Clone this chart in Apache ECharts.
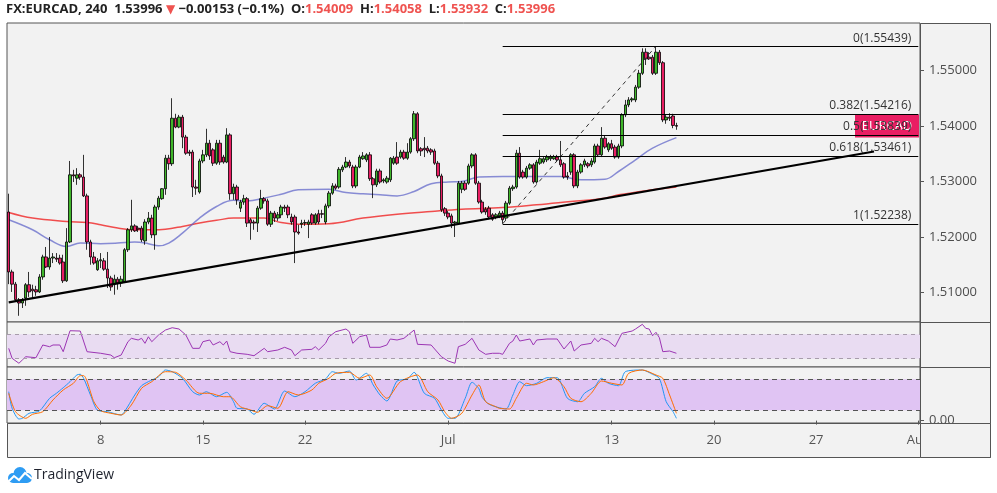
<!DOCTYPE html>
<html><head><meta charset="utf-8">
<script src="https://cdn.jsdelivr.net/npm/echarts@6/dist/echarts.min.js"></script>
<style>html,body{margin:0;padding:0;background:#fff;}#c{width:997px;height:493px;}</style>
</head><body><div id="c"></div>
<script>
// ---------------- DATA ----------------
const symbolTitle = 'FX:EURCAD, 240';
const symbolName = 'EURCAD';
const changeAbs = -0.00153;
const changePct = -0.1;

const opens = [
1.5245,1.5137,1.5115,1.5087,1.5081,1.5090,1.5114,1.5106,1.5105,1.5101,
1.5128,1.5164,1.5146,1.5162,1.5162,1.5162,1.5155,1.5121,1.5191,1.5312,
1.5306,1.5312,1.5308,1.5274,1.5191,1.5164,1.5141,1.5157,1.5157,1.5142,
1.5126,1.5115,1.5124,1.5117,1.5119,1.5177,1.5213,1.5220,1.5216,1.5216,
1.5193,1.5227,1.5234,1.5204,1.5254,1.5269,1.5287,1.5342,1.5332,1.5414,
1.5398,1.5416,1.5380,1.5353,1.5353,1.5290,1.5281,1.5337,1.5348,1.5369,
1.5357,1.5333,1.5369,1.5344,1.5335,1.5384,1.5278,1.5290,1.5252,1.5263,
1.5269,1.5231,1.5227,1.5225,1.5252,1.5269,1.5265,1.5223,1.5243,1.5234,
1.5240,1.5254,1.5254,1.5236,1.5236,1.5209,1.5223,1.5225,1.5223,1.5240,
1.5225,1.5242,1.5242,1.5227,1.5256,1.5279,1.5292,1.5290,1.5321,1.5326,
1.5335,1.5326,1.5292,1.5326,1.5341,1.5339,1.5348,1.5305,1.5294,1.5319,
1.5301,1.5299,1.5303,1.5333,1.5344,1.5344,1.5353,1.5342,1.5353,1.5377,
1.5422,1.5359,1.5360,1.5360,1.5357,1.5355,1.5333,1.5310,1.5251,1.5243,
1.5238,1.5225,1.5225,1.5286,1.5297,1.5297,1.5328,1.5348,1.5297,1.5263,
1.5250,1.5252,1.5240,1.5236,1.5238,1.5243,1.5234,1.5261,1.5287,1.5290,
1.5351,1.5317,1.5308,1.5324,1.5330,1.5299,1.5333,1.5335,1.5339,1.5341,
1.5341,1.5344,1.5339,1.5332,1.5310,1.5317,1.5348,1.5292,1.5317,1.5330,
1.5332,1.5330,1.5335,1.5364,1.5348,1.5378,1.5357,1.5368,1.5362,1.5344,
1.5364,1.5420,1.5438,1.5447,1.5447,1.5470,1.5495,1.5533,1.5524,1.5524,
1.5495,1.5533,1.5514,1.5411,1.5416,1.5418,1.54009];

const closes = [
1.5137,1.5115,1.5087,1.5081,1.5087,1.5114,1.5101,1.5103,1.5101,1.5128,
1.5164,1.5146,1.5162,1.5164,1.5160,1.5153,1.5121,1.5191,1.5312,1.5310,
1.5312,1.5308,1.5274,1.5191,1.5164,1.5153,1.5157,1.5159,1.5142,1.5126,
1.5110,1.5124,1.5117,1.5124,1.5177,1.5213,1.5220,1.5211,1.5214,1.5195,
1.5227,1.5234,1.5204,1.5254,1.5270,1.5287,1.5342,1.5332,1.5414,1.5398,
1.5416,1.5380,1.5351,1.5351,1.5290,1.5288,1.5337,1.5348,1.5369,1.5346,
1.5333,1.5369,1.5335,1.5335,1.5384,1.5278,1.5290,1.5267,1.5263,1.5269,
1.5225,1.5225,1.5225,1.5252,1.5269,1.5265,1.5223,1.5243,1.5234,1.5240,
1.5254,1.5252,1.5240,1.5227,1.5209,1.5207,1.5225,1.5226,1.5227,1.5225,
1.5240,1.5227,1.5241,1.5256,1.5279,1.5292,1.5288,1.5322,1.5326,1.5335,
1.5328,1.5292,1.5326,1.5344,1.5346,1.5348,1.5305,1.5294,1.5319,1.5299,
1.5303,1.5306,1.5342,1.5342,1.5333,1.5353,1.5342,1.5353,1.5377,1.5422,
1.5355,1.5355,1.5357,1.5355,1.5353,1.5333,1.5310,1.5249,1.5243,1.5236,
1.5225,1.5227,1.5297,1.5297,1.5286,1.5328,1.5348,1.5297,1.5263,1.5245,
1.5245,1.5236,1.5232,1.5240,1.5243,1.5231,1.5261,1.5288,1.5290,1.5351,
1.5308,1.5308,1.5324,1.5330,1.5299,1.5335,1.5341,1.5341,1.5344,1.5344,
1.5345,1.5339,1.5330,1.5308,1.5308,1.5348,1.5292,1.5317,1.5330,1.5337,
1.5328,1.5337,1.5364,1.5348,1.5378,1.5362,1.5368,1.5360,1.5344,1.5364,
1.5420,1.5438,1.5447,1.5449,1.5470,1.5495,1.5533,1.5521,1.5521,1.5495,
1.5533,1.5514,1.5411,1.5416,1.5414,1.5401,1.53996];

const highs = [
1.5278,1.5141,1.5119,1.5090,1.5090,1.5117,1.5137,1.5114,1.5112,1.5133,
1.5168,1.5182,1.5200,1.5171,1.5171,1.5168,1.5168,1.5216,1.5337,1.5321,
1.5324,1.5315,1.5348,1.5278,1.5195,1.5173,1.5162,1.5171,1.5162,1.5173,
1.5130,1.5132,1.5128,1.5130,1.5180,1.5216,1.5267,1.5223,1.5220,1.5220,
1.5232,1.5245,1.5240,1.5258,1.5274,1.5288,1.5348,1.5348,1.5450,1.5422,
1.5420,1.5420,1.5384,1.5357,1.5357,1.5303,1.5341,1.5357,1.5395,1.5375,
1.5360,1.5375,1.5375,1.5348,1.5396,1.5387,1.5296,1.5294,1.5267,1.5276,
1.5272,1.5234,1.5231,1.5256,1.5285,1.5272,1.5269,1.5247,1.5247,1.5245,
1.5258,1.5258,1.5258,1.5242,1.5240,1.5222,1.5231,1.5231,1.5231,1.5243,
1.5243,1.5249,1.5249,1.5260,1.5283,1.5297,1.5296,1.5326,1.5330,1.5344,
1.5339,1.5330,1.5330,1.5348,1.5353,1.5351,1.5353,1.5308,1.5323,1.5323,
1.5306,1.5310,1.5344,1.5346,1.5371,1.5357,1.5357,1.5369,1.5380,1.5427,
1.5425,1.5362,1.5380,1.5364,1.5360,1.5359,1.5337,1.5314,1.5254,1.5247,
1.5242,1.5229,1.5301,1.5301,1.5301,1.5332,1.5351,1.5351,1.5301,1.5267,
1.5254,1.5256,1.5243,1.5243,1.5247,1.5247,1.5265,1.5292,1.5294,1.5357,
1.5362,1.5321,1.5328,1.5333,1.5333,1.5339,1.5357,1.5344,1.5348,1.5348,
1.5348,1.5348,1.5373,1.5335,1.5317,1.5351,1.5351,1.5321,1.5333,1.5341,
1.5335,1.5342,1.5368,1.5368,1.5398,1.5382,1.5371,1.5375,1.5366,1.5368,
1.5423,1.5447,1.5452,1.5452,1.5474,1.5501,1.5540,1.5540,1.5533,1.5528,
1.55439,1.5537,1.5517,1.5420,1.5423,1.5422,1.54058];

const lows = [
1.5115,1.5101,1.5083,1.5058,1.5072,1.5076,1.5092,1.5090,1.5094,1.5099,
1.5123,1.5144,1.5141,1.5153,1.5155,1.5150,1.5117,1.5119,1.5189,1.5299,
1.5294,1.5303,1.5272,1.5177,1.5150,1.5150,1.5139,1.5144,1.5139,1.5108,
1.5103,1.5096,1.5105,1.5110,1.5117,1.5173,1.5209,1.5209,1.5209,1.5191,
1.5186,1.5223,1.5198,1.5177,1.5249,1.5267,1.5276,1.5321,1.5328,1.5396,
1.5396,1.5360,1.5348,1.5346,1.5272,1.5276,1.5278,1.5333,1.5344,1.5339,
1.5328,1.5330,1.5330,1.5332,1.5333,1.5267,1.5267,1.5258,1.5245,1.5258,
1.5218,1.5195,1.5213,1.5209,1.5249,1.5260,1.5220,1.5218,1.5227,1.5229,
1.5234,1.5245,1.5234,1.5222,1.5153,1.5204,1.5216,1.5220,1.5198,1.5222,
1.5222,1.5223,1.5234,1.5223,1.5252,1.5276,1.5285,1.5287,1.5317,1.5324,
1.5324,1.5288,1.5288,1.5324,1.5339,1.5335,1.5301,1.5270,1.5290,1.5296,
1.5297,1.5296,1.5299,1.5330,1.5330,1.5341,1.5339,1.5339,1.5350,1.5373,
1.5351,1.5346,1.5344,1.5351,1.5348,1.5330,1.5306,1.5245,1.5238,1.5232,
1.5216,1.5200,1.5222,1.5279,1.5283,1.5294,1.5324,1.5294,1.5260,1.5242,
1.5240,1.5232,1.5229,1.5232,1.5234,1.52238,1.5229,1.5258,1.5283,1.5287,
1.5305,1.5305,1.5305,1.5321,1.5296,1.5296,1.5330,1.5332,1.5335,1.5337,
1.5339,1.5335,1.5326,1.5305,1.5303,1.5312,1.5288,1.5288,1.5314,1.5326,
1.5324,1.5326,1.5332,1.5344,1.5344,1.5359,1.5353,1.5357,1.5341,1.5341,
1.5360,1.5416,1.5434,1.5443,1.5443,1.5467,1.5492,1.5510,1.5519,1.5492,
1.5492,1.5510,1.5407,1.5404,1.5409,1.5396,1.53932];

// moving averages: [barIndex, value]
const maBlue = [[0,1.5231],[7,1.5213],[12,1.5195],[17,1.5183],[21,1.5189],[27,1.5188],[32,1.5189],[37,1.5191],[41,1.5188],[44,1.5184],[47,1.5189],[51,1.5207],[56,1.5234],[61,1.5255],[66,1.5266],[70,1.5265],[75,1.5270],[80,1.5277],[85,1.5285],[94,1.5286],[99,1.5280],[104,1.5278],[109,1.5276],[114,1.5274],[119,1.5282],[124,1.5296],[129,1.5299],[133,1.5300],[138,1.5308],[145,1.5309],[155,1.5309],[162,1.5309],[168,1.5303],[175,1.5304],[179,1.5318],[184,1.5339],[189,1.5360],[196,1.5379]];
const maRed = [[0,1.5244],[7,1.5234],[17,1.5228],[23,1.5226],[27,1.5222],[32,1.5216],[37,1.5213],[42,1.5213],[46,1.5214],[51,1.5219],[56,1.5225],[61,1.5230],[66,1.5234],[75,1.5234],[80,1.5226],[85,1.5223],[94,1.5224],[104,1.5234],[114,1.5241],[124,1.5246],[133,1.5250],[145,1.5253],[155,1.5258],[165,1.5264],[175,1.5270],[179,1.5276],[189,1.5285],[196,1.5290]];

const rsi = [[0,47],[1,30.6],[3,22.5],[4,27.9],[5,33.3],[8,31.6],[10,52.5],[12,49.7],[13,52.5],[15,52.5],[16,41.5],[18,75.9],[21,75.4],[23,41.5],[27,38.9],[30,36],[31,31.6],[33,36],[35,57.9],[36,63.4],[38,60.7],[39,63.4],[40,55.2],[41,66],[42,57.9],[44,68.9],[46,77],[48,80.8],[50,78.7],[52,68.9],[54,47],[56,47],[57,57.9],[59,60.7],[60,52.5],[62,57.9],[63,52.5],[64,59],[65,41.5],[67,38.9],[70,37.2],[72,34.9],[75,47],[76,41.5],[79,44.3],[81,48.7],[83,44.3],[84,34.9],[86,44.3],[89,45.4],[90,49.7],[91,44.3],[93,55.2],[94,66],[96,74.3],[99,78.7],[100,74.3],[101,55.2],[103,66],[105,68.9],[106,48.7],[109,48.7],[111,52.5],[112,62.3],[114,60.7],[116,63.4],[119,77],[120,53.6],[124,52.5],[127,33.3],[129,26.2],[131,22.5],[132,49.7],[134,53.6],[136,63.4],[138,44.3],[140,37.2],[142,38.9],[144,38.9],[145,37.2],[147,55.2],[148,59],[149,68.9],[150,59],[153,62.3],[154,52.5],[155,60.7],[158,62.3],[161,62.3],[163,45.9],[165,59],[166,42.6],[168,52.5],[171,55.2],[172,63.4],[173,57.9],[174,63.4],[176,59],[178,49.7],[180,71.6],[183,75.4],[184,78.7],[186,86.4],[187,79.8],[188,78.7],[189,67.7],[190,73.3],[191,64.4],[192,41.5],[194,42.6],[196,38.9]];

const stochK = [[0,56],[1,23.9],[3,3.2],[4,4.5],[6,14.2],[9,18.6],[12,43.2],[14,52.9],[16,63.7],[18,75.4],[20,88.3],[21,89.7],[22,81.9],[24,49.6],[26,20.6],[29,17.3],[33,10.9],[34,17.3],[37,49.6],[39,67.6],[41,75.4],[44,85],[46,98],[48,94.7],[51,81.9],[54,56],[56,49.6],[58,56],[61,46.3],[64,54.8],[66,36.6],[67,23.9],[70,22.5],[72,12.3],[75,33.6],[78,22.5],[81,57.4],[84,46.3],[87,56],[90,72.3],[93,80.6],[95,94.7],[97,91.6],[100,96],[102,78.6],[105,91.6],[107,69],[109,49.6],[111,38],[114,76.7],[117,80.6],[119,93.5],[122,52.9],[125,43.2],[127,20.6],[129,4.5],[131,4.5],[134,43.2],[136,74.2],[138,62],[139,45],[141,31.6],[144,25],[146,22.5],[148,49.6],[150,75.4],[152,67.6],[155,72.3],[158,83.1],[161,83.1],[164,43.2],[167,36.6],[169,52.9],[172,65.7],[174,81.9],[176,72.3],[179,67.6],[181,94.7],[186,98],[189,89.7],[191,81.9],[193,36.6],[195,17.3],[196,4.5]];

const stochD = [[0,52.9],[2,17.3],[5,4.5],[7,12.3],[10,17.3],[13,40],[16,59.3],[19,72.3],[21,87],[22,87],[25,36.6],[27,19.2],[30,14.2],[33,10.9],[36,30.3],[39,62.6],[42,75.4],[46,94.7],[49,93.5],[52,78.6],[56,52.9],[59,52.9],[63,46.3],[65,46.3],[68,26.9],[71,20.6],[73,16.1],[76,28.9],[79,23.9],[82,56],[85,49.6],[89,59.3],[91,72.3],[94,81.9],[96,91.6],[100,93.5],[103,81.9],[106,88.3],[108,65.7],[111,43.2],[115,75.4],[120,88.3],[123,56],[126,40],[128,17.3],[130,4.5],[133,14.2],[136,49.6],[138,69],[140,36.6],[143,26.9],[144,23.9],[147,22.5],[149,43.2],[152,72.3],[154,69],[157,75.4],[160,83.1],[163,65.7],[165,43.2],[168,36.6],[171,52.9],[174,76.7],[177,72.3],[180,69],[182,91.6],[186,98],[190,88.3],[192,81.9],[194,49.6],[196,14.2]];

const tickIdx = [27, 57, 87, 129, 177, 207, 237, 267];
const tickText = ['8', '15', '22', 'Jul', '13', '20', '27', 'Aug'];
const priceTicks = [1.51, 1.52, 1.53, 1.54, 1.55];
const fibRatios = ['0', '0.382', '0.5', '0.618', '1'];
const fibLevels = [1.55439, 1.54216, 1.53839, 1.53461, 1.52238];
const fibFrom = 145, fibTo = 190;
const trendLine = [[0, 1.50822], [254, 1.53541]];
const rsiBand = [70, 30];
const stochBand = [80, 20];

// categories: 4h forex bars, weekdays only
const barCount = 268;
const categories = [];
(function () {
  let t = Date.UTC(2020, 5, 1, 12);
  while (categories.length < barCount) {
    const d = new Date(t);
    const wd = d.getUTCDay();
    if (wd !== 0 && wd !== 6) categories.push(d.toISOString().slice(0, 16).replace('T', ' '));
    t += 4 * 3600 * 1000;
  }
})();

// ---------------- CHART ----------------
const FONT = 'Open Sans';
const labelAt = {};
tickIdx.forEach((i, k) => { labelAt[i] = tickText[k]; });
const candleData = opens.map((o, i) => [o, closes[i], lows[i], highs[i]]);
const last = opens.length - 1;
const f5 = v => v.toFixed(5);
const chStr = '\u2212' + Math.abs(changeAbs).toFixed(5) + ' (\u2212' + Math.abs(changePct).toFixed(1) + '%)';

const chart = echarts.init(document.getElementById('c'), null, { renderer: 'canvas' });

const gridBase = { left: 7, right: 77, show: true, backgroundColor: '#f2f2f2', borderColor: '#555', borderWidth: 1 };

const option = {
  animation: false,
  backgroundColor: '#ffffff',
  textStyle: { fontFamily: FONT },
  title: {
    left: 6, top: 3, padding: 0,
    text: '{b|' + symbolTitle + '}  {n|' + f5(closes[last]) + '} {r|\u25BC} {n|' + chStr + '}  {b|O:}{v|' + f5(opens[last]) + '}  {b|H:}{v|' + f5(highs[last]) + '}  {b|L:}{v|' + f5(lows[last]) + '}  {b|C:}{v|' + f5(closes[last]) + '}',
    textStyle: {
      fontSize: 13, fontFamily: FONT, color: '#222',
      rich: {
        b: { fontWeight: 'bold', fontSize: 13, color: '#222', fontFamily: FONT },
        n: { fontSize: 13, color: '#222', fontFamily: FONT },
        r: { fontSize: 12, color: '#ef5350', fontFamily: 'DejaVu Sans' },
        v: { fontSize: 13, color: '#ef5350', fontFamily: FONT }
      }
    }
  },
  grid: [
    Object.assign({ top: 23, height: 299 }, gridBase),
    Object.assign({ top: 322, height: 45 }, gridBase),
    Object.assign({ top: 367, height: 56 }, gridBase)
  ],
  xAxis: [0, 1, 2].map(g => ({
    type: 'category', gridIndex: g, data: categories, boundaryGap: true,
    axisLine: { show: false },
    axisTick: g === 2 ? { show: true, alignWithLabel: true, interval: (i) => (i in labelAt), length: 4, lineStyle: { color: '#555' } } : { show: false },
    axisLabel: g === 2 ? { show: true, interval: (i) => (i in labelAt), formatter: (v, i) => labelAt[i] || '', color: '#555', fontSize: 13, margin: 11, fontFamily: FONT } : { show: false },
    splitLine: { show: false }
  })),
  yAxis: [
    {
      type: 'value', gridIndex: 0, position: 'right', min: 1.50468, max: 1.55856,
      axisLine: { show: false },
      axisTick: { show: true, length: 4, lineStyle: { color: '#555' }, customValues: priceTicks },
      axisLabel: { show: true, customValues: priceTicks, color: '#4d4d4d', fontSize: 13, margin: 9, fontFamily: FONT,
        formatter: v => priceTicks.some(p => Math.abs(p - v) < 1e-7) ? v.toFixed(5) : '' },
      splitLine: { show: false }
    },
    {
      type: 'value', gridIndex: 1, position: 'right', min: 16.4, max: 90.2,
      axisLine: { show: false }, axisTick: { show: false }, axisLabel: { show: false }, splitLine: { show: false }
    },
    {
      type: 'value', gridIndex: 2, position: 'right', min: -4.6, max: 103.8,
      axisLine: { show: false },
      axisTick: { show: true, length: 4, lineStyle: { color: '#555' }, customValues: [0] },
      axisLabel: { show: true, customValues: [0], color: '#4d4d4d', fontSize: 13, margin: 9, fontFamily: FONT,
        formatter: v => (Math.abs(v) < 1e-9 ? v.toFixed(2) : '') },
      splitLine: { show: false }
    }
  ],
  series: [
    {
      type: 'line', name: 'MA200', xAxisIndex: 0, yAxisIndex: 0, data: maRed, smooth: 0.4, symbol: 'none', z: 1,
      lineStyle: { color: '#f03030', width: 1.5, opacity: 0.85 }, silent: true
    },
    {
      type: 'line', name: 'MA50', xAxisIndex: 0, yAxisIndex: 0, data: maBlue, smooth: 0.4, symbol: 'none', z: 1,
      lineStyle: { color: '#5a60c8', width: 1.5, opacity: 0.7 }, silent: true
    },
    {
      type: 'candlestick', name: symbolName, xAxisIndex: 0, yAxisIndex: 0, data: candleData, barWidth: 3, z: 2,
      itemStyle: { color: '#3fb62a', color0: '#e91e63', borderColor: '#000', borderColor0: '#000', borderWidth: 0.8 },
      markLine: {
        silent: true, symbol: ['none', 'none'], animation: false,
        label: { show: false },
        data: [
          [{ coord: trendLine[0], lineStyle: { color: '#000', width: 2.2, type: 'solid' } }, { coord: trendLine[1] }],
          [{ coord: [fibFrom, fibLevels[4]], lineStyle: { color: '#333', width: 1, type: [4, 4] } }, { coord: [fibTo, fibLevels[0]] }]
        ].concat(fibLevels.map((lv, k) => [
          { coord: [fibFrom, lv], lineStyle: { color: '#000', width: 1, type: 'solid' },
            label: { show: true, position: 'insideEndTop', formatter: fibRatios[k] + '(' + lv.toFixed(5) + ')', color: '#333', fontSize: 12, fontFamily: FONT, distance: [7, 2] } },
          { coord: [barCount - 1, lv] }
        ]))
      }
    },
    {
      type: 'line', name: 'RSI', xAxisIndex: 1, yAxisIndex: 1, data: rsi, symbol: 'none', silent: true,
      lineStyle: { color: '#9c35b4', width: 1 },
      markArea: { silent: true, itemStyle: { color: '#e9dcf2' }, data: [[{ yAxis: rsiBand[0] }, { yAxis: rsiBand[1] }]] },
      markLine: { silent: true, symbol: ['none', 'none'], label: { show: false }, lineStyle: { color: '#a79cab', width: 1, type: [4, 4] },
        data: [{ yAxis: rsiBand[0] }, { yAxis: rsiBand[1] }] }
    },
    {
      type: 'line', name: '%K', xAxisIndex: 2, yAxisIndex: 2, data: stochK, symbol: 'none', smooth: 0.25, silent: true,
      lineStyle: { color: '#2196f3', width: 1 },
      markArea: { silent: true, itemStyle: { color: '#e0c4f3' }, data: [[{ yAxis: stochBand[0] }, { yAxis: stochBand[1] }]] },
      markLine: { silent: true, symbol: ['none', 'none'], label: { show: false }, lineStyle: { color: '#555', width: 1, type: [5, 4] },
        data: [{ yAxis: stochBand[0] }, { yAxis: stochBand[1] }] }
    },
    {
      type: 'line', name: '%D', xAxisIndex: 2, yAxisIndex: 2, data: stochD, symbol: 'none', smooth: 0.25, silent: true,
      lineStyle: { color: '#ff6d00', width: 1 }
    }
  ]
};
chart.setOption(option);

// overlay graphics (frames, symbol tag, logo)
const yTag = chart.convertToPixel({ yAxisIndex: 0 }, closes[last]);
const tagTop = Math.round(yTag) - 11.5;
chart.setOption({
  graphic: [
    { type: 'rect', z: -1, silent: true, shape: { x: 920.5, y: 23.5, width: 70, height: 434 }, style: { fill: '#f2f2f2', stroke: '#555', lineWidth: 1 } },
    { type: 'rect', z: -1, silent: true, shape: { x: 7.5, y: 423.5, width: 913, height: 34 }, style: { fill: '#f2f2f2', stroke: '#555', lineWidth: 1 } },
    { type: 'line', z: -1, silent: true, shape: { x1: 920, y1: 322.5, x2: 990, y2: 322.5 }, style: { stroke: '#555', lineWidth: 1 } },
    { type: 'line', z: -1, silent: true, shape: { x1: 920, y1: 367.5, x2: 990, y2: 367.5 }, style: { stroke: '#555', lineWidth: 1 } },
    { type: 'rect', z: 100, silent: true, shape: { x: 920.5, y: 423.5, width: 70, height: 34 }, style: { fill: '#f2f2f2', stroke: '#555', lineWidth: 1 } },
    { type: 'rect', z: 1, silent: true, shape: { x: 855, y: tagTop, width: 64, height: 23 }, style: { fill: '#e91e63' } },
    { type: 'text', z: 1, silent: true, x: 887, y: tagTop + 11.5, style: { text: symbolName, fill: '#ffffff', fontSize: 13, fontFamily: FONT, align: 'center', verticalAlign: 'middle' } },
    { type: 'circle', z: 5, silent: true, shape: { cx: 13, cy: 478, r: 5 }, style: { fill: '#2e9cf3' } },
    { type: 'circle', z: 5, silent: true, shape: { cx: 20, cy: 473.5, r: 6.5 }, style: { fill: '#2e9cf3' } },
    { type: 'circle', z: 5, silent: true, shape: { cx: 27, cy: 478, r: 5 }, style: { fill: '#2e9cf3' } },
    { type: 'rect', z: 5, silent: true, shape: { x: 13, y: 476, width: 14, height: 7 }, style: { fill: '#2e9cf3' } },
    { type: 'polyline', z: 6, silent: true, shape: { points: [[8, 482], [14, 476], [19, 480], [25, 473], [32, 479]] }, style: { stroke: '#ffffff', lineWidth: 2, fill: 'none' } },
    { type: 'text', z: 5, silent: true, x: 34, y: 475, style: { text: 'TradingView', fill: '#1e222d', fontSize: 14, fontFamily: FONT, verticalAlign: 'middle' } }
  ]
});
</script>
</body></html>
